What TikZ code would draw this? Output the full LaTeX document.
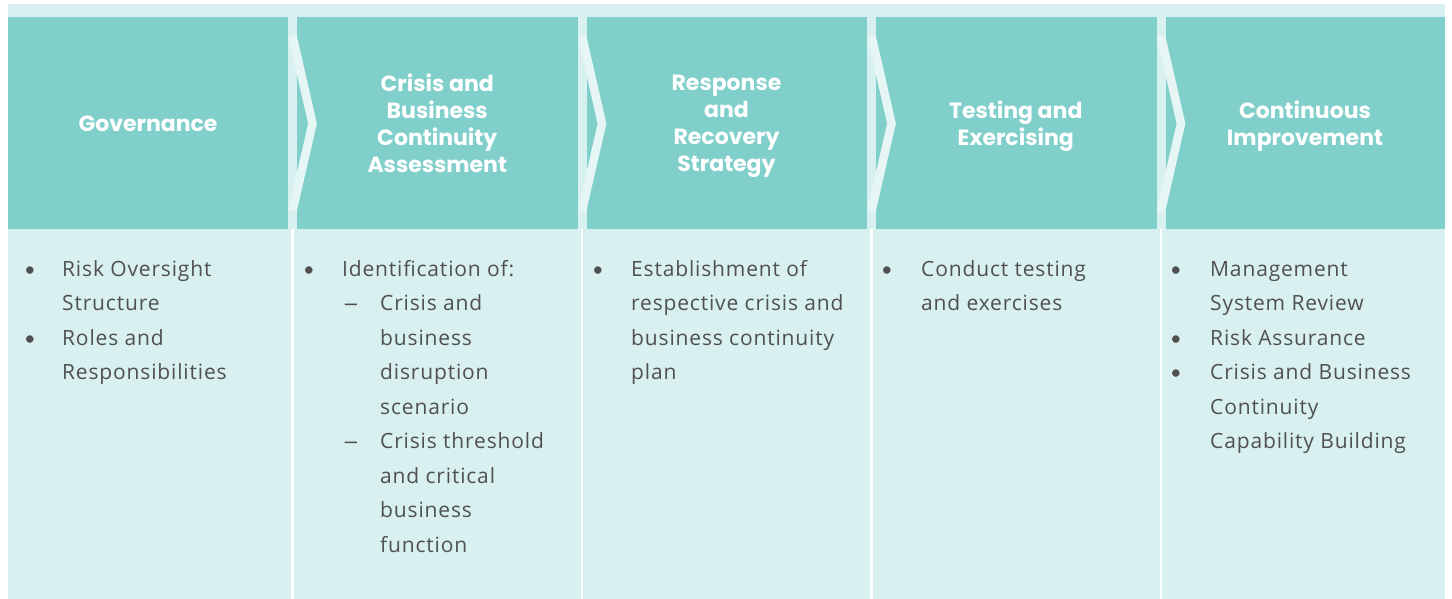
\documentclass[tikz,border=0pt]{standalone}
\usepackage{fontspec}
\setmainfont{Open Sans}[LetterSpace=4]
\newfontfamily\headfont{Poppins}
\newfontfamily\dotfont{Lato}
\usepackage{xcolor}
\definecolor{headteal}{HTML}{81CFCB}
\definecolor{bodybg}{HTML}{D9F0F0}
\definecolor{chevlight}{HTML}{E6F6F5}
\definecolor{bodytext}{HTML}{505050}

\begin{document}
\begin{tikzpicture}[x=1pt, y=-1pt,
    head/.style={text=white, font=\headfont\fontsize{22}{27}\selectfont\bfseries, align=center, inner sep=0pt, text depth=0pt},
    line/.style={text=bodytext, font=\fontsize{21}{34.5}\selectfont, anchor=base west, inner sep=0pt},
    dot/.style={text=bodytext, font=\dotfont\fontsize{20}{34.5}\selectfont, anchor=base, inner sep=0pt},
    subdash/.style={text=bodytext, font=\fontsize{21}{34.5}\selectfont, anchor=base, inner sep=0pt},
    sep/.style={chevlight, line width=8.5pt, line join=miter}]

    \useasboundingbox (0,0) rectangle (1452,599);
    \fill [bodybg] (8,4) rectangle (1445,599);
    \fill [headteal] (8,17) rectangle (1445,229);

    \foreach \s in {292.5, 582, 871.5, 1161} {
      \fill [bodybg] (\s-4.5,17) rectangle (\s+4.5,229);
      \draw [sep] (\s,36) -- (\s+20,123.5) -- (\s,211);
      \draw [white, line width=2.5pt] (\s,229) -- (\s,599);
    }

    \node [head] (a) at (148, 123.5) {Governance};
    \node [head] (b) at (437.25, 123.5) {Crisis and\\Business\\Continuity\\Assessment};
    \node [head] (c) at (726.5, 123.5) {Response\\and\\Recovery\\Strategy};
    \node [head] (d) at (1015.75, 123.5) {Testing and\\Exercising};
    \node [head] (e) at (1305, 123.5) {Continuous\\Improvement};

    \foreach \t [count=\i] in {Risk Oversight, Structure, Roles and, Responsibilities}
      \node [line] (a\i) at (62, 241.5+34.5*\i) {\t};
    \node [dot] (ab1) at (30, 276) {•};
    \node [dot] (ab2) at (30, 345) {•};

    \node [line] (b1) at (342, 276) {Identification of:};
    \foreach \t [count=\i from 2] in {Crisis and, business, disruption, scenario, Crisis threshold, and critical, business, function}
      \node [line] (b\i) at (380, 241.5+34.5*\i) {\t};
    \node [dot] (bb1) at (309, 276) {•};
    \node [subdash] (bd1) at (351, 310.5) {\scalebox{1.4}[1]{–}};
    \node [subdash] (bd2) at (351, 448.5) {\scalebox{1.4}[1]{–}};

    \foreach \t [count=\i] in {Establishment of, respective crisis and, business continuity, plan}
      \node [line] (c\i) at (631, 241.5+34.5*\i) {\t};
    \node [dot] (cb1) at (598, 276) {•};

    \foreach \t [count=\i] in {Conduct testing, and exercises}
      \node [line] (d\i) at (921, 241.5+34.5*\i) {\t};
    \node [dot] (db1) at (887, 276) {•};

    \foreach \t [count=\i] in {Management, System Review, Risk Assurance, Crisis and Business, Continuity, Capability Building}
      \node [line] (e\i) at (1210, 241.5+34.5*\i) {\t};
    \node [dot] (eb1) at (1176, 276) {•};
    \node [dot] (eb2) at (1176, 345) {•};
    \node [dot] (eb3) at (1176, 379.5) {•};

  \end{tikzpicture}
\end{document}
